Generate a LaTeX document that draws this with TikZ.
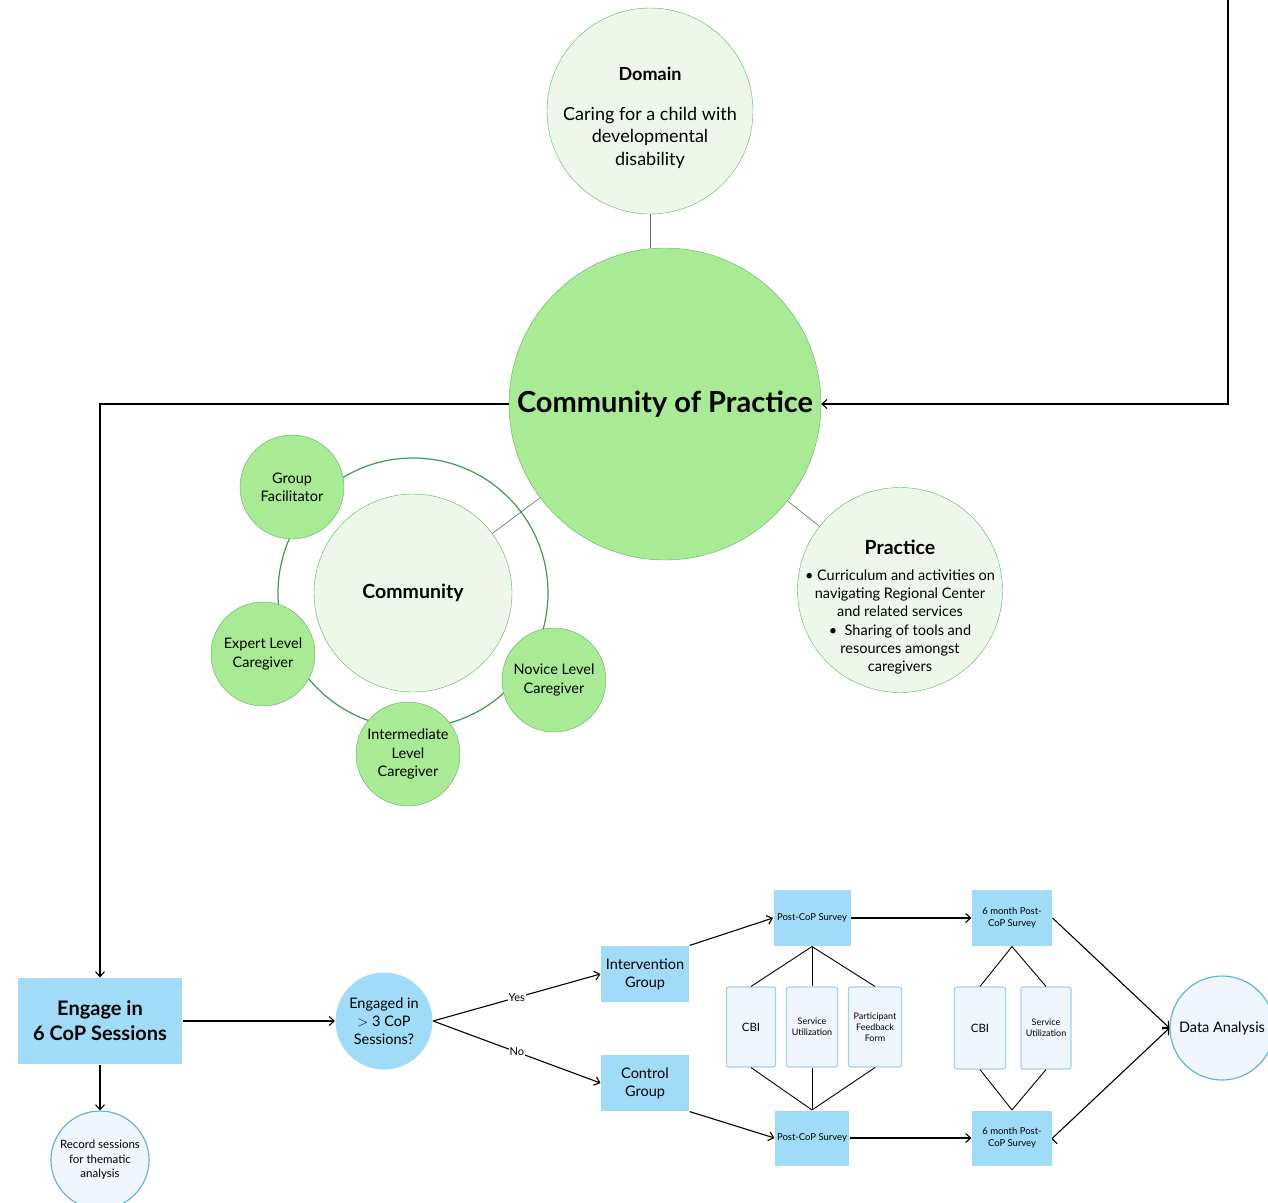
\documentclass[tikz,border=0pt]{standalone}
\usepackage{fontspec}
\setmainfont{Lato}
\usetikzlibrary{arrows.meta}
\definecolor{copgreen}{HTML}{A9EB94}
\definecolor{copline}{HTML}{5DB063}
\definecolor{palegreen}{HTML}{EEF8EA}
\definecolor{ringgreen}{HTML}{3F9A50}
\definecolor{stepblue}{HTML}{A0DCF8}
\definecolor{paleblue}{HTML}{F0F6FD}
\definecolor{blueline}{HTML}{5AAEE3}
\definecolor{boxline}{HTML}{A6CFEE}
\newcommand{\fsz}[1]{\fontsize{#1}{\the\dimexpr #1pt*5/4\relax}\selectfont}

\begin{document}
\begin{tikzpicture}[x=1pt, y=-1pt, >={Straight Barb[length=5pt,width=9pt]}]
			\tikzstyle{bubble} = [circle, draw=copline, fill=copgreen, inner sep=0pt, align=center]
			\tikzstyle{palebubble} = [circle, draw=copline, fill=palegreen, inner sep=0pt, align=center]
			\tikzstyle{bluebox} = [rectangle, fill=stepblue, inner sep=2pt, align=center]
			\tikzstyle{bluedot} = [circle, fill=stepblue, inner sep=0pt, align=center]
			\tikzstyle{paledot} = [circle, draw=blueline, fill=paleblue, inner sep=0pt, align=center]
			\tikzstyle{formbox} = [rectangle, rounded corners=2pt, draw=boxline, fill=paleblue, inner sep=1pt, align=center, font=\fsz{9}]
			\tikzstyle{thinline} = [draw=black!60, line width=0.6pt]
			\tikzstyle{flow} = [draw=black, line width=1.1pt]
			\tikzstyle{lbl} = [fill=white, inner sep=1pt, font=\fsz{11}]
			\useasboundingbox (0,0) rectangle (1268,1202);

			% community ring behind the members
			\node[circle, draw=ringgreen, line width=1.2pt, minimum size=270pt] (ring) at (413,593) {};

			\begin{scope}
			\path

			node[palebubble, minimum size=206pt, label={[align=center, font=\fsz{18}, yshift=-7pt]center:{\bfseries Domain}\\[17pt]Caring for a child with\\developmental\\disability}] (dom) at (650,111) {}
			node[bubble, minimum size=312pt, font=\fsz{29}\bfseries] (cop) at (665,404)
				{Community of Practice}
			node[palebubble, minimum size=198pt, font=\fsz{19.5}\bfseries] (comm) at (413,593)
				{Community}
			node[palebubble, minimum size=205pt, label={[align=center, font=\fsz{14.5}, yshift=-17pt]center:{\fsz{19.5}\bfseries Practice}\\[8pt]•\ Curriculum and activities on\\navigating Regional Center\\and related services\\•\ \ Sharing of tools and\\resources amongst\\caregivers}] (prac) at (900,590) {}
			node[bubble, minimum size=104pt, font=\fsz{14.5}] (fac) at (292,487) {Group\\Facilitator}
			node[bubble, minimum size=104pt, font=\fsz{14.5}] (expert) at (263,654) {Expert Level\\Caregiver}
			node[bubble, minimum size=104pt, font=\fsz{14.5}] (inter) at (408,754) {Intermediate\\Level\\Caregiver}
			node[bubble, minimum size=104pt, font=\fsz{14.5}] (novice) at (554,680) {Novice Level\\Caregiver}

			(dom.south) edge[thinline] (dom.south |- cop.north)
			(comm) edge[thinline] (cop)
			(cop) edge[thinline] (prac)
			;
			\end{scope}

			\begin{scope}
			\path[->, flow]

			node[bluebox, minimum width=164pt, minimum height=86pt, font=\fsz{20}\bfseries] (eng) at (100,1021) {Engage in\\6 CoP Sessions}
			node[paledot, minimum size=98pt, font=\fsz{11.5}] (rec) at (100,1160) {Record sessions\\for thematic\\analysis}
			node[bluedot, minimum size=97pt, font=\fsz{14.5}] (dec) at (384,1021) {Engaged in\\$>$ 3 CoP\\Sessions?}
			node[bluebox, minimum width=88pt, minimum height=56pt, font=\fsz{14.5}] (int) at (645,974) {Intervention\\Group}
			node[bluebox, minimum width=88pt, minimum height=56pt, font=\fsz{14.5}] (ctrl) at (645,1083) {Control\\Group}
			node[bluebox, minimum width=77pt, minimum height=56pt, font=\fsz{9.5}] (post1) at (812,918) {Post-CoP Survey}
			node[bluebox, minimum width=74pt, minimum height=55pt, font=\fsz{9.5}] (post2) at (812,1138) {Post-CoP Survey}
			node[bluebox, minimum width=80pt, minimum height=56pt, font=\fsz{9.5}] (six1) at (1012,918) {6 month Post-\\CoP Survey}
			node[bluebox, minimum width=80pt, minimum height=55pt, font=\fsz{9.5}] (six2) at (1012,1138) {6 month Post-\\CoP Survey}
			node[formbox, minimum width=49pt, minimum height=80pt, font=\fsz{11.5}] (cbia) at (751,1027) {CBI}
			node[formbox, minimum width=51pt, minimum height=80pt] (sua) at (812,1027) {Service\\Utilization}
			node[formbox, minimum width=53pt, minimum height=80pt] (pff) at (875,1027) {Participant\\Feedback\\Form}
			node[formbox, minimum width=51pt, minimum height=82pt, font=\fsz{11.5}] (cbib) at (980,1028) {CBI}
			node[formbox, minimum width=50pt, minimum height=82pt] (sub) at (1046,1028) {Service\\Utilization}
			node[paledot, minimum size=104pt, font=\fsz{14.5}] (data) at (1222,1028) {Data Analysis}

			(eng) edge (dec)
			(eng) edge (rec)
			(dec.east) edge node[lbl] {Yes} (int.west)
			(dec.east) edge node[lbl] {No} (ctrl.west)
			(int.north east) edge (post1.west)
			(ctrl.south east) edge (post2.west)
			(post1) edge (six1)
			(post2) edge (six2)
			(six1.east) edge (data.west)
			(six2.east) edge (data.west)
			;
			\end{scope}

			% survey instruments
			\path[draw=black, line width=0.9pt]
			(post1.south) edge (cbia.north)
			(post1.south) edge (sua.north)
			(post1.south) edge (pff.north)
			(cbia.south) edge (post2.north)
			(sua.south) edge (post2.north)
			(pff.south) edge (post2.north)
			(six1.south) edge (cbib.north)
			(six1.south) edge (sub.north)
			(cbib.south) edge (six2.north)
			(sub.south) edge (six2.north)
			;

			% loop back into the community
			\coordinate (feedin) at (1228,-5);
			\draw[->, flow] (cop.west) -| (eng.north);
			\draw[->, flow] (feedin) |- (cop.east);

			\end{tikzpicture}
\end{document}
